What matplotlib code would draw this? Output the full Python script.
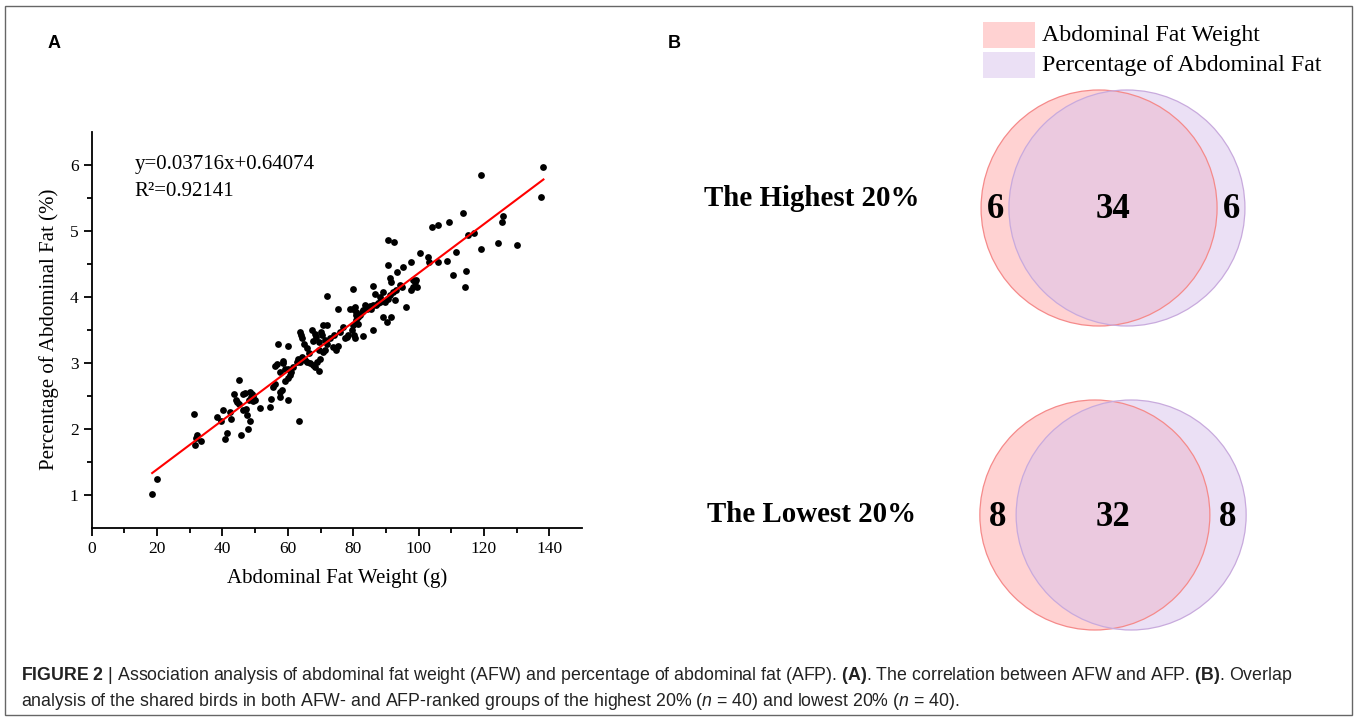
import numpy as np
import matplotlib.pyplot as plt
from matplotlib.patches import Circle, Rectangle

plt.rcParams['mathtext.fontset'] = 'custom'
plt.rcParams['mathtext.rm'] = 'Liberation Sans'
plt.rcParams['mathtext.bf'] = 'Liberation Sans:bold'
plt.rcParams['mathtext.it'] = 'Liberation Sans:italic'

# panel A: abdominal fat weight (g) vs percentage of abdominal fat (%)
afw = [18.5, 19.9, 31.3, 32.1, 31.9, 31.7, 33.3, 38.2, 40.1, 39.5, 42.5, 40.8,
       41.3, 42.3, 45.2, 43.5, 44.1, 44.6, 45.2, 46.2, 47.0, 46.3, 47.1, 47.6,
       45.7, 47.7, 48.4, 48.5, 49.1, 48.7, 49.5, 48.2, 49.2, 50.1,
       51.5, 54.5, 55.0, 57.6, 58.1, 57.6, 60.1, 55.6, 56.1, 59.1, 60.1, 60.6,
       61.1, 56.6, 56.1, 58.4, 58.6, 57.6, 59.1, 60.1, 57.1, 60.1, 63.5, 61.6,
       62.8, 63.2, 64.2, 64.7, 65.2, 65.8, 63.7, 66.7, 67.7, 68.4, 69.4, 68.8,
       63.7, 64.0, 64.2, 64.9, 65.9, 66.4, 67.5, 68.3, 68.6, 67.8, 69.4, 70.1,
       70.7, 71.9, 70.4, 71.4, 72.1, 69.6, 70.7, 71.4, 69.9, 71.9,
       72.9, 74.1, 73.7, 74.8, 75.2, 76.0, 77.0, 77.5, 78.0, 78.5, 79.5, 80.2,
       80.5, 80.0, 81.0, 81.6, 75.5, 79.0, 80.0, 80.5, 80.8, 81.0, 81.6, 82.1,
       82.6, 83.1, 84.1, 83.6, 85.1, 85.6, 86.1, 87.1, 87.6, 88.2, 79.8, 83.1,
       86.1, 89.2, 90.2, 91.7, 86.1, 86.6, 88.2, 89.2, 89.7, 90.7, 91.2, 92.2,
       92.7, 93.2, 94.3, 94.8, 91.7, 91.2, 90.7, 90.7, 92.4, 93.4, 95.2, 97.8,
       96.2, 97.8, 98.3, 98.9, 99.3, 98.3, 99.6, 100.3,
       103.0, 103.3, 106.0, 108.6, 111.6, 104.2, 106.0, 109.3, 113.5, 119.0,
       110.4, 114.5, 114.3, 115.2, 116.9, 119.2, 124.3, 130.0, 125.5, 125.8,
       137.6, 138.2]
afp = [1.01, 1.24, 2.23, 1.91, 1.86, 1.76, 1.81, 2.18, 2.29, 2.12, 2.14, 1.84,
       1.93, 2.25, 2.74, 2.52, 2.44, 2.40, 2.38, 2.52, 2.54, 2.28, 2.30, 2.21,
       1.91, 2.00, 2.11, 2.55, 2.53, 2.48, 2.49, 2.43, 2.42, 2.44,
       2.31, 2.33, 2.45, 2.48, 2.58, 2.55, 2.44, 2.63, 2.67, 2.73, 2.77, 2.81,
       2.86, 2.98, 2.95, 3.03, 2.99, 2.86, 2.91, 2.90, 3.29, 3.26, 2.12, 2.93,
       3.01, 3.06, 3.09, 3.06, 3.04, 3.01, 3.01, 2.99, 2.96, 2.93, 2.88, 3.01,
       3.47, 3.42, 3.37, 3.29, 3.23, 3.14, 3.49, 3.44, 3.39, 3.33, 3.31, 3.47,
       3.57, 3.57, 3.42, 3.34, 3.29, 3.19, 3.16, 3.19, 3.06, 4.01,
       3.37, 3.42, 3.24, 3.20, 3.26, 3.47, 3.54, 3.37, 3.39, 3.42, 3.49, 3.42,
       3.37, 3.57, 3.64, 3.59, 3.82, 3.81, 3.82, 3.84, 3.77, 3.72, 3.69, 3.72,
       3.77, 3.80, 3.82, 3.87, 3.86, 3.81, 3.87, 3.87, 3.90, 3.92, 4.11, 3.40,
       3.49, 3.69, 3.62, 3.69, 4.16, 4.04, 4.00, 4.07, 3.92, 3.97, 4.02, 4.07,
       3.95, 4.10, 4.18, 4.15, 4.23, 4.28, 4.48, 4.86, 4.83, 4.38, 4.45, 4.53,
       3.84, 4.10, 4.15, 4.23, 4.25, 4.26, 4.15, 4.66,
       4.60, 4.52, 4.52, 4.54, 4.67, 5.05, 5.08, 5.13, 5.27, 5.84,
       4.33, 4.39, 4.15, 4.93, 4.96, 4.73, 4.81, 4.79, 5.13, 5.23,
       5.51, 5.96]

slope = 0.03716
intercept = 0.64074
r_squared = 0.92141

# panel B: overlap of AFW- and AFP-ranked groups
venn_groups = ['The Highest 20%', 'The Lowest 20%']
only_afw = [6, 8]
shared = [34, 32]
only_afp = [6, 8]
set_names = ['Abdominal Fat Weight', 'Percentage of Abdominal Fat']

serif = 'Liberation Serif'

fig = plt.figure(figsize=(13.57, 7.2), dpi=100)

# overlay in pixel coordinates for frame, venn, legend, caption
ov = fig.add_axes([0, 0, 1, 1])
ov.set_xlim(0, 1357)
ov.set_ylim(720, 0)
ov.axis('off')
ov.add_patch(Rectangle((5, 6), 1347, 709, fill=False, edgecolor='#666666', lw=1))

ov.text(48, 43, 'A', fontsize=13, fontweight='bold', family='Liberation Sans', va='center', ha='left')
ov.text(668, 43, 'B', fontsize=13, fontweight='bold', family='Liberation Sans', va='center', ha='left')

# scatter
ax = fig.add_axes([91.7 / 1357, 1 - 527.7 / 720, (582 - 91.7) / 1357, (527.7 - 131.7) / 720])
ax.scatter(afw, afp, s=24, color='black', zorder=3, linewidths=0)
xs = np.array([min(afw), max(afw)])
ax.plot(xs, slope * xs + intercept, color='red', lw=1.5, zorder=4)
ax.set_xlim(0, 150)
ax.set_ylim(0.5, 6.5)
ax.set_xticks(np.arange(0, 141, 20))
ax.set_xticks(np.arange(10, 150, 20), minor=True)
ax.set_yticks(np.arange(1, 7, 1))
ax.set_yticks(np.arange(1.5, 6.5, 1), minor=True)
for s in ['top', 'right']:
    ax.spines[s].set_visible(False)
for s in ['left', 'bottom']:
    ax.spines[s].set_linewidth(1.3)
ax.tick_params(which='major', length=6, width=1.3, labelsize=12.5, direction='out')
ax.tick_params(which='minor', length=3.5, width=1.3, direction='out')
for lab in ax.get_xticklabels() + ax.get_yticklabels():
    lab.set_family(serif)
ax.set_xlabel('Abdominal Fat Weight (g)', family=serif, fontsize=15, labelpad=8)
ax.set_ylabel('Percentage of Abdominal Fat (%)', family=serif, fontsize=15, labelpad=8)
ax.text(13.2, 6.0, 'y=%.5fx+%.5f' % (slope, intercept), family=serif, fontsize=15, va='center')
ax.text(13.2, 5.6, 'R\u00b2=%.5f' % r_squared, family=serif, fontsize=15, va='center')


def center_gap(n_set, n_shared, r):
    # distance between equal circles so that lens area matches the shared fraction
    target = n_shared / n_set
    lo, hi = 0.0, 1.0
    for _ in range(60):
        u = (lo + hi) / 2
        f = 2 / np.pi * (np.arccos(u) - u * np.sqrt(1 - u * u))
        if f > target:
            lo = u
        else:
            hi = u
    return 2 * r * (lo + hi) / 2


venn_cy = [208, 515]
venn_r = [118, 115]
venn_mid = 1113
col_a, edge_a = '#ff9c9c', '#f58a8a'
col_b, edge_b = '#d9c2ec', '#c8aadd'

for i, grp in enumerate(venn_groups):
    r = venn_r[i]
    cy = venn_cy[i]
    d = center_gap(only_afw[i] + shared[i], shared[i], r)
    ov.add_patch(Circle((venn_mid - d / 2, cy), r, facecolor=col_a, alpha=0.45, edgecolor='none'))
    ov.add_patch(Circle((venn_mid + d / 2, cy), r, facecolor=col_b, alpha=0.5, edgecolor='none'))
    ov.add_patch(Circle((venn_mid - d / 2, cy), r, fill=False, edgecolor=edge_a, lw=0.9))
    ov.add_patch(Circle((venn_mid + d / 2, cy), r, fill=False, edgecolor=edge_b, lw=0.9))
    ny = cy + 2
    ov.text(venn_mid - r, ny, str(only_afw[i]), family=serif, fontweight='bold', fontsize=25, ha='center', va='center')
    ov.text(venn_mid, ny, str(shared[i]), family=serif, fontweight='bold', fontsize=25, ha='center', va='center')
    ov.text(venn_mid + r, ny, str(only_afp[i]), family=serif, fontweight='bold', fontsize=25, ha='center', va='center')
    ov.text(812, cy - 9 + i * 9, grp, family=serif, fontweight='bold', fontsize=20.8, ha='center', va='center')

# legend
for i, (name, c, a) in enumerate(zip(set_names, [col_a, col_b], [0.45, 0.5])):
    y0 = 22 + i * 30
    ov.add_patch(Rectangle((983, y0), 52, 26, facecolor=c, alpha=a, edgecolor='none'))
    ov.text(1042, y0 + 13, name, family=serif, fontsize=17.2, va='center', ha='left')

# caption
cap1 = (r"$\mathbf{FIGURE\ 2}$ | Association analysis of abdominal fat weight (AFW) and percentage of "
        r"abdominal fat (AFP). $\mathbf{(A)}$. The correlation between AFW and AFP. $\mathbf{(B)}$. Overlap")
cap2 = (r"analysis of the shared birds in both AFW- and AFP-ranked groups of the highest 20% "
        r"($\mathit{n}$ = 40) and lowest 20% ($\mathit{n}$ = 40).")
ov.text(21, 676, cap1, family='Liberation Sans', fontsize=12.8, color='#222222', va='center', ha='left')
ov.text(21, 701, cap2, family='Liberation Sans', fontsize=12.8, color='#222222', va='center', ha='left')

fig.savefig('out.png', dpi=100)
